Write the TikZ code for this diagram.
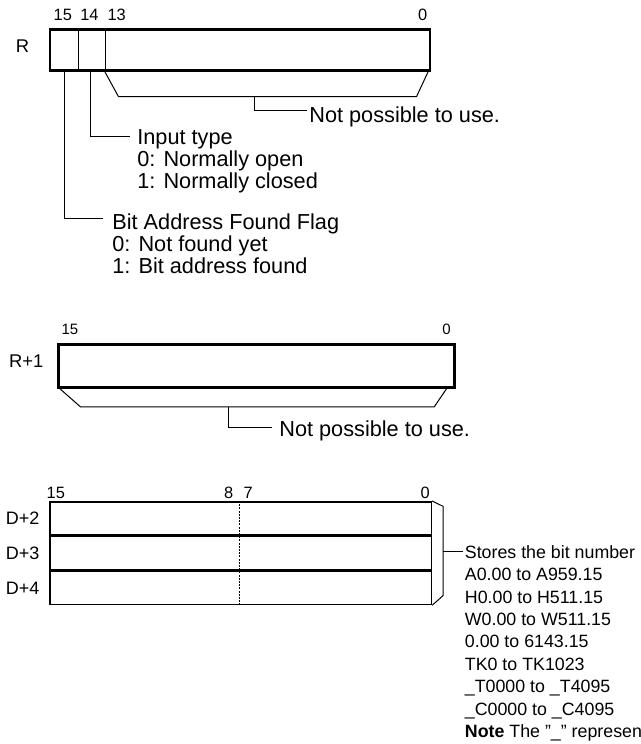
\documentclass[tikz,border=0pt]{standalone}
\usepackage{fontspec}
\setmainfont{Liberation Sans}
\usetikzlibrary{positioning,calc}

\begin{document}
\begin{tikzpicture}[
    x=0.5pt, y=-0.5pt,
    regbox/.style={
        rectangle,
        draw,
        line width=1.3pt,
        inner sep=0pt
    },
    tblbox/.style={
        rectangle,
        draw,
        line width=0.8pt,
        inner sep=0pt,
        minimum width=190.8pt,
        minimum height=16.6pt
    },
    divider/.style={line width=0.45pt},
    lead/.style={line width=0.5pt},
    dotline/.style={line width=0.5pt, dash pattern=on 1pt off 0.6pt},
    bitnum/.style={font=\fontsize{8.2}{10}\selectfont, inner sep=0pt, anchor=base},
    wordlbl/.style={font=\fontsize{9.2}{11}\selectfont, inner sep=0pt},
    desc/.style={font=\fontsize{10.85}{11}\selectfont, inner sep=0pt, anchor=base west},
    note/.style={font=\fontsize{8.9}{11}\selectfont, inner sep=0pt, anchor=base west}
]
\useasboundingbox (0,0) rectangle (641,744);

% Word R
\node[regbox, minimum width=190pt, minimum height=20.7pt] (wordR) at (240,50) {};
\node[wordlbl, anchor=base] (lblR) at (22.6,52.7) {R};
\node[bitnum] (bitR15) at (62.8,20.7) {15};
\node[bitnum] (bitR14) at (89.5,20.7) {14};
\node[bitnum] (bitR13) at (116.7,20.7) {13};
\node[bitnum] (bitR0) at (422.6,20.7) {0};
\draw[divider] (wordR.north -| 78,0) -- (wordR.south -| 78,0);
\draw[divider] (wordR.north -| 105,0) -- (wordR.south -| 105,0);

% Bits 13 to 0
\draw[lead] (wordR.south -| 105,0) -- (118.5,96.7) -- (416.5,96.7) -- (wordR.south -| 428,0);
\coordinate (brR) at (254,96.7);
\coordinate (nouseRend) at (307,110);
\draw[lead] (brR) |- (nouseRend);
\node[desc] (nouseR) at (309,122.7) {Not possible to use.};

% Bit 14
\coordinate (inputend) at (129.6,136.7);
\draw[lead] (wordR.south -| 90.5,0) |- (inputend);
\node[desc] (inputtype) at (137,144) {Input type};
\node[desc] (inputno) at ([yshift=-11.1pt]inputtype.base west) {0: Normally open};
\node[desc] (inputnc) at ([yshift=-11.1pt]inputno.base west) {1: Normally closed};

% Bit 15
\coordinate (flagend) at (103,218.3);
\draw[lead] (wordR.south -| 64.6,0) |- (flagend);
\node[desc] (foundflag) at (112,229.3) {Bit Address Found Flag};
\node[desc] (flagoff) at ([yshift=-11pt]foundflag.base west) {0: Not found yet};
\node[desc] (flagon) at ([yshift=-11pt]flagoff.base west) {1: Bit address found};

% Word R+1
\node[regbox, minimum width=198.1pt, minimum height=21.4pt] (wordR1) at (256.6,366.1) {};
\node[wordlbl, anchor=base] (lblR1) at (26.2,367.7) {R+1};
\node[bitnum, font=\fontsize{7.5}{9}\selectfont] (bitR115) at (70,334) {15};
\node[bitnum, font=\fontsize{7.5}{9}\selectfont] (bitR10) at (446.5,334) {0};
\draw[lead] (wordR1.south -| 60,0) -- (80.5,406.9) -- (434.2,406.9) -- (wordR1.south -| 446.5,0);
\coordinate (brR1) at (228.8,406.9);
\coordinate (nouseR1end) at (271.6,427.7);
\draw[lead] (brR1) |- (nouseR1end);
\node[desc] (nouseR1) at (279,436) {Not possible to use.};

% Words D+2 to D+4
\node[tblbox] (wordD2) at (240.5,518.3) {};
\node[tblbox, below=0pt of wordD2] (wordD3) {};
\node[tblbox, below=0pt of wordD3] (wordD4) {};
\draw[dotline] (wordD2.north -| 239.5,0) -- (wordD4.south -| 239.5,0);
\node[wordlbl, font=\fontsize{9}{11}\selectfont, left=4.5pt of wordD2] (lblD2) {D+2};
\node[wordlbl, font=\fontsize{9}{11}\selectfont, left=4.5pt of wordD3] (lblD3) {D+3};
\node[wordlbl, font=\fontsize{9}{11}\selectfont, left=4.5pt of wordD4] (lblD4) {D+4};
\node[bitnum] (bitD15) at (55.8,498.3) {15};
\node[bitnum] (bitD8) at (228.7,498.3) {8};
\node[bitnum] (bitD7) at (248.3,498.3) {7};
\node[bitnum] (bitD0) at (425.3,498.3) {0};

% Brace and bit number list
\draw[lead] (wordD2.north east) -- (443,506.3) -- (443,595.7) -- (wordD4.south east);
\coordinate (brD) at (443,551);
\coordinate (storesend) at (463,551);
\draw[lead] (brD) -- (storesend);
\node[note] (stores) at (464.5,558.3) {Stores the bit number};
\foreach \txt [count=\i] in {A0.00 to A959.15, H0.00 to H511.15, W0.00 to W511.15,
    0.00 to 6143.15, TK0 to TK1023, \_T0000 to \_T4095, \_C0000 to \_C4095}
    \node[note] (area\i) at ([yshift=-11.2pt*\i]stores.base west) {\txt};
\node[note] (notetxt) at ([yshift=-11.2pt]area7.base west) {\textbf{Note} The "\_" represen};

\end{tikzpicture}
\end{document}
